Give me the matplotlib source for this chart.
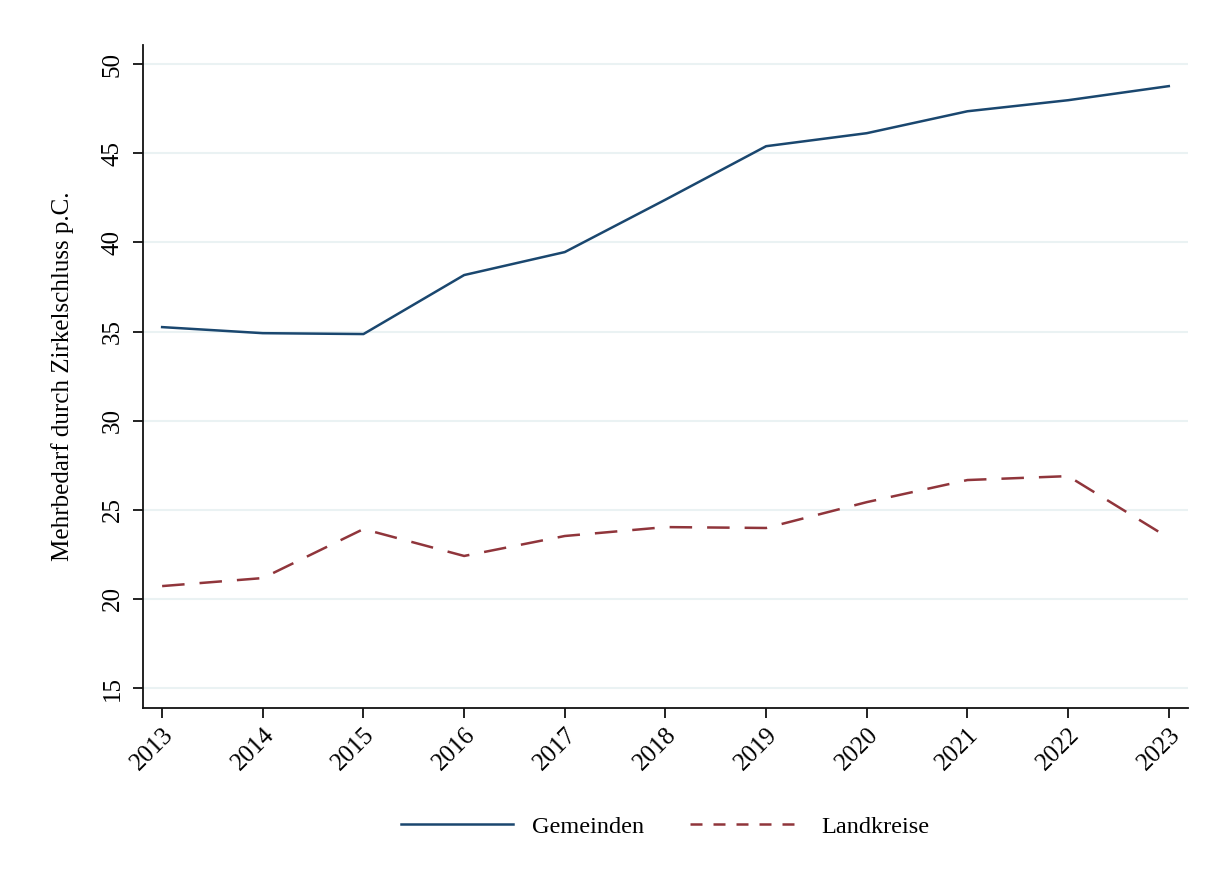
import matplotlib
matplotlib.use("Agg")
import matplotlib.pyplot as plt
from matplotlib.lines import Line2D

years = [2013, 2014, 2015, 2016, 2017, 2018, 2019, 2020, 2021, 2022, 2023]
gemeinden = [35.25, 34.91, 34.86, 38.17, 39.46, 42.4, 45.4, 46.13, 47.36, 47.98, 48.77]
landkreise = [20.72, 21.17, 23.92, 22.41, 23.53, 24.03, 23.98, 25.43, 26.67, 26.89, 23.42]
y_ticks = [15, 20, 25, 30, 35, 40, 45, 50]

plt.rcParams['font.family'] = ['Liberation Serif', 'DejaVu Serif']

blue = '#1a476f'
red = '#90353b'

fig = plt.figure(figsize=(12.15, 8.85), dpi=100)
ax = fig.add_axes([0.1177, 0.2, 0.86, 0.749])

ax.plot(years, gemeinden, color=blue, lw=1.8)
ax.plot(years, landkreise, color=red, lw=1.8, dashes=(9, 6))

ax.set_xlim(2012.81, 2023.19)
ax.set_ylim(13.88, 51.07)
ax.set_xticks(years)
ax.set_xticklabels([str(y) for y in years], rotation=45, ha='right', rotation_mode='anchor')
ax.set_yticks(y_ticks)
ax.set_yticklabels([str(t) for t in y_ticks], rotation=90, va='center')

ax.grid(axis='y', color='#eaf2f3', lw=1.5)
ax.set_axisbelow(True)
for side in ['top', 'right']:
    ax.spines[side].set_visible(False)
for side in ['left', 'bottom']:
    ax.spines[side].set_linewidth(1.3)
    ax.spines[side].set_color('#111111')

ax.tick_params(axis='both', labelsize=18, length=7, width=1.3, color='#111111')
ax.tick_params(axis='x', pad=4)
ax.tick_params(axis='y', pad=7)

ax.set_ylabel('Mehrbedarf durch Zirkelschluss p.C.', fontsize=18, labelpad=20)

# legend keys use a shorter dash than the plotted line
handles = [Line2D([], [], color=blue, lw=1.8),
           Line2D([], [], color=red, lw=1.8, dashes=(4.8, 4.4))]
fig.legend(handles, ['Gemeinden', 'Landkreise'], loc='center',
           bbox_to_anchor=(0.5475, 0.066), ncol=2, frameon=False,
           fontsize=17.5, handlelength=4.6, handletextpad=0.8, columnspacing=1.9)

fig.savefig('out.png', dpi=100, facecolor='white')
